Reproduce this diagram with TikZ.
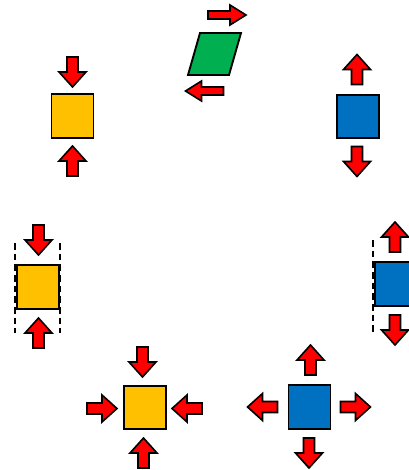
\documentclass[tikz,border=0pt]{standalone}
\usetikzlibrary{calc}
\definecolor{oyellow}{HTML}{FFC000}
\definecolor{oblue}{HTML}{0070C0}
\definecolor{ogreen}{HTML}{00B050}
\tikzset{
  sq/.style={draw=black, line width=1.4pt, minimum width=31.5pt, minimum height=32.5pt, inner sep=0pt},
  ysq/.style={sq, fill=oyellow},
  bsq/.style={sq, fill=oblue},
  arr/.style={draw=black, fill=red, line width=1.2pt, line join=miter},
  guide/.style={line width=1pt, dash pattern=on 5pt off 3pt},
  pics/barrow/.style={code={\path[arr] (-15,-5.5) -- (0,-5.5) -- (0,-13.5) -- (15,0) -- (0,13.5) -- (0,5.5) -- (-15,5.5) -- cycle;}},
  pics/tarrow/.style={code={\path[arr] (-19,-4) -- (3,-4) -- (3,-10) -- (19,0) -- (3,10) -- (3,4) -- (-19,4) -- cycle;}}
}
\begin{document}
\begin{tikzpicture}[x=0.75pt, y=-0.75pt]
\useasboundingbox (0,0) rectangle (409,470);
% top parallelogram
\coordinate (p1) at (200,33);
\coordinate (p2) at (241,33);
\coordinate (p3) at (229,75);
\coordinate (p4) at (188,75);
\path[draw=black, fill=ogreen, line width=1.4pt] (p1) -- (p2) -- (p3) -- (p4) -- cycle;
\pic at (227,15) {tarrow};
\pic[rotate=180] at (204.5,91) {tarrow};
% top-left yellow
\node[ysq] (tl) at (72.5,116) {};
\pic[rotate=-90] at (72.5,72) {barrow};
\pic[rotate=90] at (72.5,161) {barrow};
% top-right blue
\node[bsq] (tr) at (358,116.5) {};
\pic[rotate=90] at (357,69.5) {barrow};
\pic[rotate=-90] at (357,161.5) {barrow};
% middle-left yellow
\draw[guide] (15,243) -- (15,333);
\draw[guide] (60,243) -- (60,333);
\node[ysq] (ml) at (38,287) {};
\pic[rotate=-90] at (38.5,240) {barrow};
\pic[rotate=90] at (38.5,333) {barrow};
% middle-right blue
\draw[guide] (373,240) -- (373,332);
\node[bsq] (mr) at (396,284) {};
\pic[rotate=90] at (395,237) {barrow};
\pic[rotate=-90] at (395,330) {barrow};
% bottom yellow
\node[ysq] (by) at (145,407.5) {};
\pic[rotate=-90] at (142.5,362) {barrow};
\pic[rotate=90] at (143.5,453) {barrow};
\pic at (102,408.5) {barrow};
\pic[rotate=180] at (187,408.5) {barrow};
% bottom blue
\node[bsq] (bb) at (309.5,407) {};
\pic[rotate=90] at (310.5,360) {barrow};
\pic[rotate=-90] at (309,453) {barrow};
\pic[rotate=180] at (262.5,407) {barrow};
\pic at (355.5,407) {barrow};
\end{tikzpicture}
\end{document}
